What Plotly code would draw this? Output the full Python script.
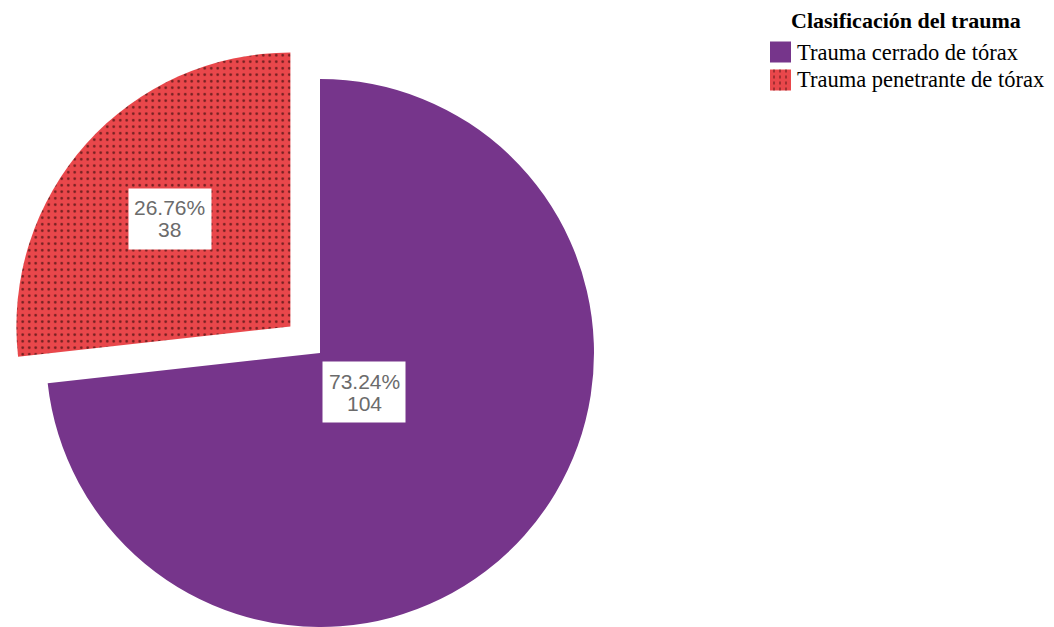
import math
import plotly.graph_objects as go

# Data
labels = ["Trauma cerrado de tórax", "Trauma penetrante de tórax"]
values = [104, 38]
legend_title = "Clasificación del trauma"

# Styling
W, H = 1054, 627
PURPLE = "#76358B"
RED = "#E9474B"
DOT = "#5a1818"
CLEAR = "rgba(0,0,0,0)"
R = 274                 # pie radius in px
CENTER = (320, 353)     # centre of the main pie in px
PULL = 0.145            # exploded slice offset, fraction of radius

total = sum(values)
fracs = [v / total for v in values]


def px_x(x):
    return x / W


def px_y(y):
    return 1 - y / H


def domain_for(cx, cy, r):
    return dict(
        x=[max(0, (cx - r) / W), min(1, (cx + r) / W)],
        y=[max(0, 1 - (cy + r) / H), min(1, 1 - (cy - r) / H)],
    )


# slice angles (clockwise from 12 o'clock)
starts, acc = [], 0.0
for f in fracs:
    starts.append(acc)
    acc += f
mids = [2 * math.pi * (s + f / 2) for s, f in zip(starts, fracs)]
halves = [math.pi * f for f in fracs]

# exploded slice centre
mr = mids[1]
red_center = (CENTER[0] + PULL * R * math.sin(mr), CENTER[1] - PULL * R * math.cos(mr))
centers = [CENTER, red_center]

fig = go.Figure()

common = dict(
    labels=labels, values=values, sort=False, direction="clockwise", rotation=0,
    textinfo="none", hoverinfo="label+value+percent", showlegend=False,
)

# main (purple) slice
fig.add_trace(go.Pie(
    **common,
    domain=domain_for(CENTER[0], CENTER[1], R),
    marker=dict(colors=[PURPLE, CLEAR], line=dict(width=0)),
))

# exploded (red, dotted) slice
fig.add_trace(go.Pie(
    **common,
    domain=domain_for(red_center[0], red_center[1], R),
    marker=dict(
        colors=[CLEAR, RED], line=dict(width=0),
        pattern=dict(shape=["", "."], fgcolor=DOT, fgopacity=0.85,
                     size=6.5, solidity=0.13, fillmode="overlay"),
    ),
))

annotations = []
label_font = dict(family="Liberation Sans", size=21, color="#6b6b6b")
# value labels at each sector's centroid: white box, percent above count
for i, (v, f) in enumerate(zip(values, fracs)):
    a = halves[i]
    d = 2 * R * math.sin(a) / (3 * a)
    cx, cy = centers[i]
    x = px_x(cx + d * math.sin(mids[i]))
    y = px_y(cy - d * math.cos(mids[i]))
    base = dict(x=x, y=y, xref="paper", yref="paper",
                xanchor="center", yanchor="middle", showarrow=False)
    annotations.append(dict(**base, text=" ", bgcolor="white", width=80, height=58))
    annotations.append(dict(**base, text=f"{f * 100:.2f}%", yshift=11, font=label_font))
    annotations.append(dict(**base, text=f"{v}", yshift=-11, font=label_font))

# legend
annotations.append(dict(
    x=px_x(906), y=px_y(20), xref="paper", yref="paper",
    xanchor="center", yanchor="middle", showarrow=False,
    text=f"<b>{legend_title}</b>",
    font=dict(family="Liberation Serif", size=22, color="black"),
))
shapes = []
swatch_fill = [PURPLE, RED]
for i, lab in enumerate(labels):
    yc = 52 + 28 * i
    shapes.append(dict(
        type="rect", xref="paper", yref="paper",
        x0=px_x(770), x1=px_x(791), y0=px_y(yc - 10.5), y1=px_y(yc + 10.5),
        fillcolor=swatch_fill[i], line=dict(width=0),
    ))
    if i == 1:
        for lx in (774, 780, 786):
            shapes.append(dict(
                type="line", xref="paper", yref="paper",
                x0=px_x(lx), x1=px_x(lx), y0=px_y(yc - 10.5), y1=px_y(yc + 10.5),
                line=dict(color=DOT, width=1, dash="dot"),
            ))
    annotations.append(dict(
        x=px_x(795), y=px_y(yc), xref="paper", yref="paper",
        xanchor="left", yanchor="middle", showarrow=False, text=lab,
        font=dict(family="Liberation Serif", size=22.5, color="black"),
    ))

fig.update_layout(
    width=W, height=H,
    margin=dict(l=0, r=0, t=0, b=0),
    paper_bgcolor="white", plot_bgcolor="white",
    annotations=annotations, shapes=shapes,
)

fig.write_html("out.html")
